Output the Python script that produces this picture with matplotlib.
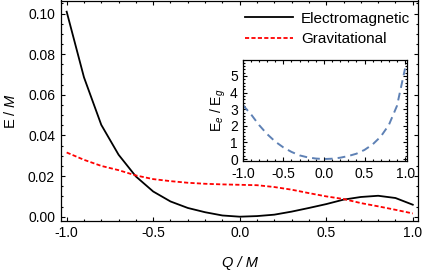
import numpy as np
import matplotlib
matplotlib.use("Agg")
import matplotlib.pyplot as plt
from matplotlib.ticker import MultipleLocator, FormatStrFormatter

plt.rcParams['font.family'] = ['Liberation Sans', 'DejaVu Sans']
plt.rcParams['mathtext.fontset'] = 'custom'
plt.rcParams['mathtext.rm'] = 'Liberation Sans'
plt.rcParams['mathtext.it'] = 'Liberation Sans:italic'

# ---- data ----
q = [-1.0, -0.9, -0.8, -0.7, -0.6, -0.5, -0.4, -0.3, -0.2, -0.1, 0.0,
     0.1, 0.2, 0.3, 0.4, 0.5, 0.6, 0.7, 0.8, 0.9, 1.0]
e_em = [0.1009, 0.0686, 0.0452, 0.0305, 0.0198, 0.0124, 0.0075, 0.0043, 0.0022, 0.0006, 0.0000,
        0.0003, 0.0010, 0.0025, 0.0043, 0.0062, 0.0084, 0.0097, 0.0103, 0.0092, 0.0059]
e_grav = [0.0316, 0.0280, 0.0250, 0.0229, 0.0203, 0.0185, 0.0175, 0.0167, 0.0162, 0.0159, 0.0157,
          0.0155, 0.0146, 0.0133, 0.0116, 0.0100, 0.0087, 0.0067, 0.0051, 0.0034, 0.0016]
ratio = [3.25, 2.70, 2.05, 1.50, 1.05, 0.70, 0.43, 0.22, 0.10, 0.03, 0.00,
         0.02, 0.08, 0.18, 0.32, 0.55, 0.88, 1.35, 2.05, 3.20, 5.45]
legend_labels = ['Electromagnetic', 'Gravitational']

W, H = 425, 273
fig = plt.figure(figsize=(W / 100, H / 100), dpi=100)

# ---- main axes ----
l, r, t, b = 61.3, 418.3, 0.5, 220.7
ax = fig.add_axes([l / W, 1 - b / H, (r - l) / W, (b - t) / H])
ax.plot(q, e_em, color='black', lw=1.3, label=legend_labels[0])
ax.plot(q, e_grav, color='#ff0000', lw=1.3, dashes=(2.3, 1.25), label=legend_labels[1])
ax.set_xlim(-1.031, 1.032)
ax.set_ylim(-0.00197, 0.1064)
ax.xaxis.set_major_locator(MultipleLocator(0.5))
ax.xaxis.set_minor_locator(MultipleLocator(0.1))
ax.yaxis.set_major_locator(MultipleLocator(0.02))
ax.yaxis.set_minor_locator(MultipleLocator(0.005))
ax.xaxis.set_major_formatter(FormatStrFormatter('%.1f'))
ax.yaxis.set_major_formatter(FormatStrFormatter('%.2f'))
ax.tick_params(which='both', direction='in', top=True, right=True, width=0.8)
ax.tick_params(which='major', length=3.0, labelsize=10)
ax.tick_params(which='minor', length=1.6)
ax.tick_params(axis='x', pad=4)
ax.tick_params(axis='y', pad=4.5)
for s in ax.spines.values():
    s.set_linewidth(0.9)
ax.set_xlabel('Q / M', fontsize=10.5, style='italic')
ax.set_ylabel(r'E / $M$', fontsize=10.5)
ax.xaxis.set_label_coords(0.5, -(263 - b) / (b - t))
ax.xaxis.label.set_va('center')
ax.yaxis.set_label_coords((10 - l) / (r - l), 0.5)
ax.yaxis.label.set_va('center')

leg = ax.legend(loc='upper left', bbox_to_anchor=(245 / W, 1 - 11.5 / H),
                bbox_transform=fig.transFigure, frameon=False, fontsize=11,
                borderpad=0, borderaxespad=0, handlelength=3.15,
                handletextpad=0.52, labelspacing=0.45)

# ---- inset ----
il, ir, it, ib = 242.8, 406.7, 59.7, 160.7
ins = fig.add_axes([il / W, 1 - ib / H, (ir - il) / W, (ib - it) / H])
ins.plot(q, ratio, color='#5e81b5', lw=1.4, dashes=(4.0, 2.6))
ins.set_xlim(-1.0, 1.02)
ins.set_ylim(-0.1, 5.98)
ins.xaxis.set_major_locator(MultipleLocator(0.5))
ins.xaxis.set_minor_locator(MultipleLocator(0.1))
ins.yaxis.set_major_locator(MultipleLocator(1))
ins.yaxis.set_minor_locator(MultipleLocator(0.2))
ins.xaxis.set_major_formatter(FormatStrFormatter('%.1f'))
ins.tick_params(which='both', direction='in', top=True, right=True, width=0.8)
ins.tick_params(which='major', length=3.0, labelsize=10)
ins.tick_params(which='minor', length=1.6)
ins.tick_params(axis='x', pad=4.3)
ins.tick_params(axis='y', pad=3.6)
for s in ins.spines.values():
    s.set_linewidth(0.9)
ins.set_ylabel(r'E$_e$ / E$_g$', fontsize=10)
ins.yaxis.set_label_coords((218 - il) / (ir - il), 0.5)
ins.yaxis.label.set_va('center')

fig.savefig('out.png', dpi=100)
